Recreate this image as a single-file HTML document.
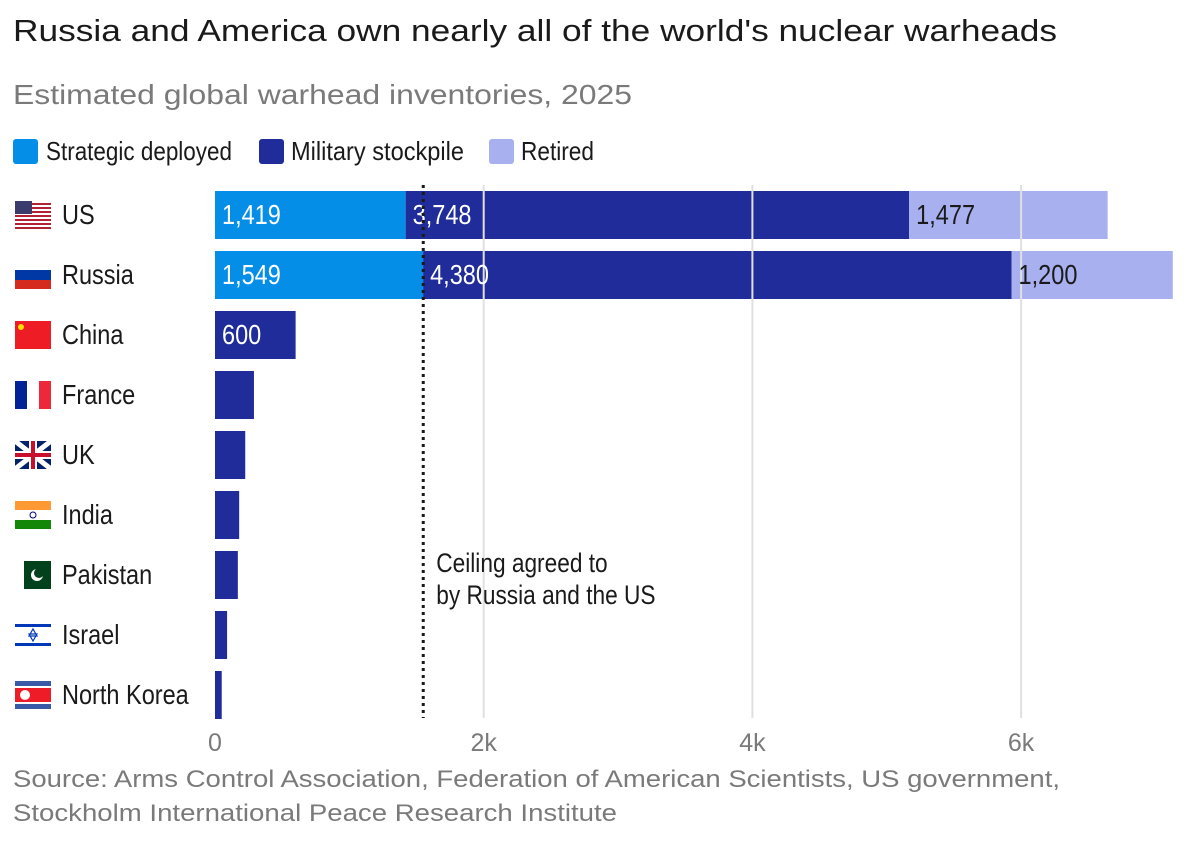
<!DOCTYPE html>
<html><head><meta charset="utf-8"><style>
body{margin:0;background:#fff;width:1188px;height:840px;overflow:hidden;font-family:"Liberation Sans",sans-serif}
</style></head><body>
<svg width="1188" height="840" xmlns="http://www.w3.org/2000/svg">
<text x="13" y="41" font-size="31" fill="#1a1a1a" textLength="1044" lengthAdjust="spacingAndGlyphs">Russia and America own nearly all of the world's nuclear warheads</text>
<text x="13" y="104" font-size="28" fill="#7a7a7a" textLength="619" lengthAdjust="spacingAndGlyphs">Estimated global warhead inventories, 2025</text>
<g fill="#1a1a1a">
<rect x="13" y="139" width="25" height="25" rx="3" fill="#058ee8"/><text x="46" y="160" font-size="26" textLength="186" lengthAdjust="spacingAndGlyphs">Strategic deployed</text>
<rect x="259" y="139" width="25" height="25" rx="3" fill="#1f2c99"/><text x="291" y="160" font-size="26" textLength="173" lengthAdjust="spacingAndGlyphs">Military stockpile</text>
<rect x="489" y="139" width="25" height="25" rx="3" fill="#a8b0ef"/><text x="521" y="160" font-size="26" textLength="73" lengthAdjust="spacingAndGlyphs">Retired</text>
</g>
<g id="plot"></g>
<text x="13" y="787" font-size="24" fill="#7a7a7a" textLength="1047" lengthAdjust="spacingAndGlyphs">Source: Arms Control Association, Federation of American Scientists, US government,</text>
<text x="13" y="821" font-size="24" fill="#7a7a7a" textLength="604" lengthAdjust="spacingAndGlyphs">Stockholm International Peace Research Institute</text>
</svg>
<script>
const countries=["US","Russia","China","France","UK","India","Pakistan","Israel","North Korea"];
const strategic=[1419,1549,0,0,0,0,0,0,0];
const military=[3748,4380,600,290,225,180,170,90,50];
const retired=[1477,1200,0,0,0,0,0,0,0];
const ticks=[0,2000,4000,6000];
const tickLabels=["0","2k","4k","6k"];
const ceiling=1550;
const NS="http://www.w3.org/2000/svg";
const g=document.getElementById('plot');
const x=v=>215+v*0.13435;
const y=i=>191+i*60;
function mk(t,a){const e=document.createElementNS(NS,t);for(const k in a)e.setAttribute(k,a[k]);g.appendChild(e);return e;}
function ntext(tx,ty,size,fill,str){
  const t=mk('text',{transform:`translate(${tx},${ty}) scale(0.84,1)`,x:0,y:0,'font-size':size,fill:fill});
  t.textContent=str;return t;
}
const cols=["#058ee8","#1f2c99","#a8b0ef"];
countries.forEach((c,i)=>{
  let s=0;
  [strategic[i],military[i],retired[i]].forEach((v,j)=>{
    if(v<=0)return;
    const r=mk('rect',{x:x(s),y:y(i),width:x(s+v)-x(s),height:48,fill:cols[j]});
    
    
    s+=v;
  });
  const t=ntext(62,y(i)+33,28,'#1a1a1a',c);
  
  
  const f=mk('rect',{x:15,y:y(i)+10,width:36,height:28,fill:['#b22234','#fff','#ee1c25','#fff','#012169','#fff','#fff','#fff','#3a5aa8'][i]});
  
  
  if(i==1){mk('rect',{x:15,y:y(i)+19,width:36,height:10,fill:'#0039a6'});mk('rect',{x:15,y:y(i)+29,width:36,height:9,fill:'#d52b1e'});mk('rect',{x:15,y:y(i)+10,width:36,height:9,fill:'#fff'});}
  if(i==0){for(let k=0;k<7;k++)mk('rect',{x:15,y:y(i)+10+k*4,width:36,height:2,fill:'#fff'});mk('rect',{x:15,y:y(i)+10,width:17,height:13,fill:'#3c3b6e'});}
  if(i==2){mk('circle',{cx:21,cy:y(i)+16,r:3,fill:'#ffde00'});}
  if(i==3){mk('rect',{x:15,y:y(i)+10,width:12,height:28,fill:'#002395'});mk('rect',{x:39,y:y(i)+10,width:12,height:28,fill:'#ed2939'});}
  if(i==5){mk('rect',{x:15,y:y(i)+10,width:36,height:9,fill:'#ff9933'});mk('rect',{x:15,y:y(i)+29,width:36,height:9,fill:'#138808'});mk('circle',{cx:33,cy:y(i)+24,r:3,fill:'none',stroke:'#000080'});}
  if(i==6){mk('rect',{x:24,y:y(i)+10,width:27,height:28,fill:'#01411c'});mk('circle',{cx:37,cy:y(i)+24,r:6,fill:'#fff'});mk('circle',{cx:39,cy:y(i)+22,r:5,fill:'#01411c'});}
  if(i==7){mk('rect',{x:15,y:y(i)+13,width:36,height:3,fill:'#0038b8'});mk('rect',{x:15,y:y(i)+32,width:36,height:3,fill:'#0038b8'});mk('path',{d:`M33 ${y(i)+18}l4 7h-8zM33 ${y(i)+30}l4 -7h-8z`,fill:'none',stroke:'#0038b8','stroke-width':1.2});}
  if(i==8){mk('rect',{x:15,y:y(i)+15,width:36,height:18,fill:'#fff'});mk('rect',{x:15,y:y(i)+17,width:36,height:14,fill:'#ed1c27'});mk('circle',{cx:25,cy:y(i)+24,r:5,fill:'#fff'});}
  if(i==4){mk('path',{d:`M15 ${y(i)+10}L51 ${y(i)+38}M51 ${y(i)+10}L15 ${y(i)+38}`,stroke:'#fff',"stroke-width":5});mk('path',{d:`M33 ${y(i)+10}V${y(i)+38}M15 ${y(i)+24}H51`,stroke:'#fff',"stroke-width":8});mk('path',{d:`M33 ${y(i)+10}V${y(i)+38}M15 ${y(i)+24}H51`,stroke:'#c8102e',"stroke-width":4});}
});
ticks.forEach((v,k)=>{
  if(v>0){const l=mk('line',{x1:x(v),x2:x(v),y1:185,y2:718,stroke:'#e0e0e0','stroke-width':2});
  
  }
  const t=mk('text',{x:x(v),y:751,'text-anchor':'middle','font-size':25,fill:'#7a7a7a'});
  t.textContent=tickLabels[k];
  
  
});
const fmt=v=>v.toLocaleString('en-US');
countries.forEach((c,i)=>{
  let s=0;
  [strategic[i],military[i],retired[i]].forEach((v,j)=>{
    if(v<=0)return;
    if(v>=500){const t=ntext(x(s)+7,y(i)+33,28,j==2?'#1a1a1a':'#fff',fmt(v));
    
    }
    s+=v;
  });
});
const cl=mk('line',{x1:x(ceiling),x2:x(ceiling),y1:185,y2:718,stroke:'#1a1a1a','stroke-width':3,'stroke-dasharray':'3 4'});


const a1=ntext(x(ceiling)+13,572,27,'#1a1a1a','Ceiling agreed to');


const a2=ntext(x(ceiling)+13,604,27,'#1a1a1a','by Russia and the US');


</script>
</body></html>
